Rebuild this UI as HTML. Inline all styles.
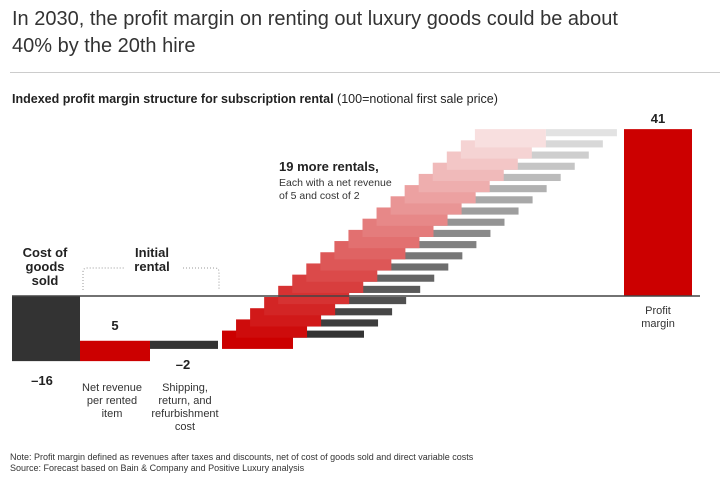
<!DOCTYPE html>
<html><head><meta charset="utf-8"><style>
body{margin:0;width:728px;height:486px;background:#fff;font-family:"Liberation Sans",sans-serif;overflow:hidden;position:relative}
.t{position:absolute;color:#222}
</style></head><body>
<div class="t" style="left:12px;top:6px;font-size:20px;line-height:27px;color:#333;width:650px">In 2030, the profit margin on renting out luxury goods could be about 40% by the 20th hire</div>
<div style="position:absolute;left:10px;top:72px;width:710px;height:1px;background:#ccc"></div>
<div class="t" style="left:12px;top:92px;font-size:12.5px"><b>Indexed profit margin structure for subscription rental</b> (100=notional first sale price)</div>
<svg id="c" width="728" height="486" style="position:absolute;left:0;top:0">
<g id="marks"></g>
<text x="48" y="257" text-anchor="middle" font-size="13" font-weight="bold" fill="#222"><tspan x="45" dy="0">Cost of</tspan><tspan x="45" dy="14">goods</tspan><tspan x="45" dy="14">sold</tspan></text>
<text x="152" y="257" text-anchor="middle" font-size="13" font-weight="bold" fill="#222"><tspan x="152" dy="0">Initial</tspan><tspan x="152" dy="14">rental</tspan></text>
<path d="M83,290 V272 Q83,268 87,268 H125 M183,268 H215 Q219,268 219,272 V290" fill="none" stroke="#999" stroke-dasharray="1,2"/>
<text x="279" y="171" font-size="13" font-weight="bold" fill="#222">19 more rentals,</text>
<text font-size="10.5" fill="#333"><tspan x="279" y="186">Each with a net revenue</tspan><tspan x="279" y="199">of 5 and cost of 2</tspan></text>
<text x="115" y="330" text-anchor="middle" font-size="13" font-weight="bold" fill="#222">5</text>
<text x="183" y="369" text-anchor="middle" font-size="13" font-weight="bold" fill="#222">–2</text>
<text x="42" y="385" text-anchor="middle" font-size="13" font-weight="bold" fill="#222">–16</text>
<text font-size="11" fill="#333" text-anchor="middle"><tspan x="112" y="391">Net revenue</tspan><tspan x="112" y="404">per rented</tspan><tspan x="112" y="417">item</tspan></text>
<text font-size="11" fill="#333" text-anchor="middle"><tspan x="185" y="391">Shipping,</tspan><tspan x="185" y="404">return, and</tspan><tspan x="185" y="417">refurbishment</tspan><tspan x="185" y="430">cost</tspan></text>
<text x="658" y="123" text-anchor="middle" font-size="13" font-weight="bold" fill="#222">41</text>
<text font-size="11" fill="#333" text-anchor="middle"><tspan x="658" y="314">Profit</tspan><tspan x="658" y="327">margin</tspan></text>
</svg>
<div class="t" style="left:10px;top:452px;font-size:9px;line-height:11px;color:#333">Note: Profit margin defined as revenues after taxes and discounts, net of cost of goods sold and direct variable costs<br>Source: Forecast based on Bain &amp; Company and Positive Luxury analysis</div>
<script>
const costOfGoods = -16;
const initialRevenue = 5;
const initialCost = -2;
const rentalRevenue = [4.5,4.5,4.5,4.5,4.5,4.5,4.5,4.5,4.5,4.5,4.5,4.5,4.5,4.5,4.5,4.5,4.5,4.5,4.5];
const rentalCost = [-1.75,-1.75,-1.75,-1.75,-1.75,-1.75,-1.75,-1.75,-1.75,-1.75,-1.75,-1.75,-1.75,-1.75,-1.75,-1.75,-1.75,-1.75,-1.75];
const profitMargin = [41];

const baseY = 296, ppu = 4.07;
const y = v => baseY - v * ppu;
const g = document.getElementById('marks');
const NS = 'http://www.w3.org/2000/svg';
function rect(x0, x1, v0, v1, fill, name) {
  const r = document.createElementNS(NS, 'rect');
  r.setAttribute('x', x0); r.setAttribute('width', x1 - x0);
  r.setAttribute('y', Math.min(y(v0), y(v1)));
  r.setAttribute('height', Math.abs(y(v0) - y(v1)));
  r.setAttribute('fill', fill);
  
  
  g.appendChild(r);
}
function mix(a, b, t) { return 'rgb(' + a.map((c, i) => Math.round(c + (b[i] - c) * t)).join(',') + ')'; }
let v = 0;
rect(12, 80, 0, costOfGoods, '#333', 'cost-of-goods-bar'); v += costOfGoods;
rect(80, 150, v, v + initialRevenue, '#cc0000', 'initial-revenue-bar'); v += initialRevenue;
rect(150, 218, v, v + initialCost, '#333', 'initial-cost-bar'); v += initialCost;
const n = rentalRevenue.length, step = 14.05, w = 71;
const reds = [], costs = [];
for (let i = 0; i < n; i++) {
  const x0 = 222 + step * i, t = i / (n - 1);
  const rv = v + rentalRevenue[i];
  reds.push([x0, x0 + w, v, rv, mix([204,0,0], [250,235,235], t * 0.95)]);
  costs.push([x0 + w, x0 + 2 * w, rv, rv + rentalCost[i], mix([51,51,51], [235,235,235], t * 0.95)]);
  v = rv + rentalCost[i];
}
costs.forEach(c => rect(c[0], c[1], c[2], c[3], c[4], 'rental-cost-bar'));
reds.forEach(c => rect(c[0], c[1], c[2], c[3], c[4], 'rental-revenue-bar'));
rect(624, 692, 0, profitMargin[0], '#cc0000', 'profit-margin-bar');
const ax = document.createElementNS(NS, 'line');
ax.setAttribute('x1', 12); ax.setAttribute('x2', 700);
ax.setAttribute('y1', baseY); ax.setAttribute('y2', baseY);
ax.setAttribute('stroke', '#444'); ax.setAttribute('stroke-width', '1.5');


g.appendChild(ax);
</script>
</body></html>
